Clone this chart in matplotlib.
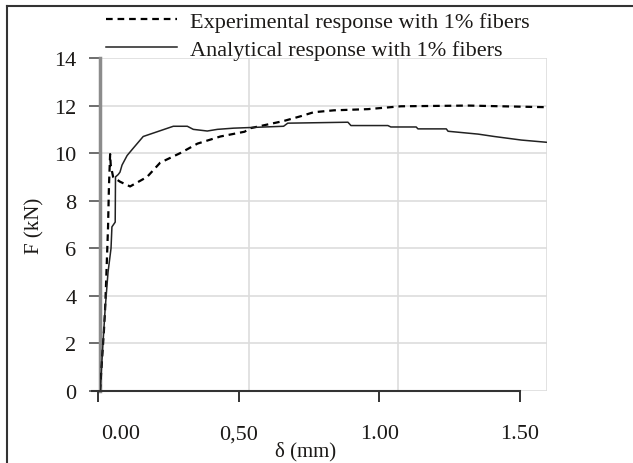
import matplotlib
matplotlib.use("Agg")
import matplotlib.pyplot as plt
from matplotlib.lines import Line2D
from matplotlib.transforms import ScaledTranslation

plt.rcParams['font.family'] = ['Liberation Serif', 'DejaVu Serif']

# experimental response (dashed), delta in mm, F in kN
exp_d = [0.0, 0.013, 0.017, 0.020, 0.027, 0.030, 0.034, 0.036, 0.044, 0.067,
         0.101, 0.158, 0.202, 0.269, 0.327, 0.404, 0.485, 0.505, 0.616, 0.673,
         0.717, 0.785, 0.899, 1.010, 1.236, 1.347, 1.505]
exp_F = [0.0, 2.5, 3.4, 4.4, 6.9, 8.6, 9.96, 9.5, 9.0, 8.8,
         8.6, 9.0, 9.6, 10.0, 10.4, 10.7, 10.9, 11.05, 11.35, 11.55,
         11.72, 11.8, 11.85, 11.97, 12.0, 11.97, 11.93]

# analytical response (solid)
ana_d = [0.0, 0.003, 0.010, 0.017, 0.027, 0.037, 0.040, 0.051, 0.052, 0.061,
         0.067, 0.074, 0.091, 0.111, 0.145, 0.192, 0.246, 0.293, 0.313, 0.360,
         0.394, 0.448, 0.616, 0.630, 0.832, 0.842, 0.966, 0.976, 1.061, 1.067,
         1.162, 1.168, 1.269, 1.323, 1.414, 1.505]
ana_F = [0.0, 0.5, 2.0, 3.4, 5.0, 6.0, 6.9, 7.1, 9.0, 9.1,
         9.2, 9.5, 9.9, 10.2, 10.7, 10.9, 11.13, 11.13, 11.0, 10.93,
         11.0, 11.05, 11.13, 11.26, 11.3, 11.16, 11.16, 11.1, 11.1, 11.02,
         11.02, 10.92, 10.8, 10.7, 10.55, 10.45]

y_ticks = [0, 2, 4, 6, 8, 10, 12, 14]
x_ticks = [0.0, 0.5, 1.0, 1.5]
x_labels = ['0.00', '0,50', '1.00', '1.50']

txt = '#1c1a18'
W, H = 633, 464
fig = plt.figure(figsize=(W / 100, H / 100), dpi=100)

# main plotting area
ax = fig.add_axes([100 / W, 1 - 392 / H, 447 / W, 333 / H])
ax.plot(exp_d, exp_F, color='black', lw=1.6, ls=(0, (3, 2.2)),
        label='Experimental response with 1% fibers')
ax.plot(ana_d, ana_F, color='#222222', lw=1.1,
        label='Analytical response with 1% fibers')
ax.set_xlim(0, 1.5)
ax.set_ylim(0, 14)
ax.set_yticks(y_ticks)
ax.set_xticks(x_ticks)
ax.set_xticklabels([])
ax.grid(True, color='#dddddd', lw=1.2)
ax.set_axisbelow(True)
for s in ['top', 'right', 'bottom']:
    ax.spines[s].set_visible(False)
ax.spines['left'].set_color('#8c8c8c')
ax.spines['left'].set_linewidth(2.5)
ax.spines['left'].set_zorder(1.5)
ax.tick_params(axis='y', direction='out', length=8, width=1.2, color='#555555',
               labelsize=16, labelcolor=txt, pad=9)
ax.tick_params(axis='x', length=0)
ax.set_ylabel('F (kN)', fontsize=15, color=txt, labelpad=7)

# bottom axis line (offset like in the original figure)
ax2 = fig.add_axes([92 / W, 1 - 392 / H, 428 / W, 333 / H], facecolor='none')
ax2.set_xlim(-6 / 281.3, 1.5)
ax2.set_ylim(0, 1)
ax2.set_xticks(x_ticks)
ax2.set_xticklabels(x_labels)
ax2.set_yticks([])
for s in ['top', 'right', 'left']:
    ax2.spines[s].set_visible(False)
ax2.spines['bottom'].set_color('#333333')
ax2.spines['bottom'].set_linewidth(1.5)
ax2.tick_params(axis='x', direction='out', length=8, width=1.4, color='#333333',
                labelsize=16, labelcolor=txt, pad=16)
ax2.set_xlabel('δ (mm)', fontsize=15, color=txt, labelpad=-2)
first = ax2.get_xticklabels()[0]
first.set_transform(first.get_transform() + ScaledTranslation(0.23, 0, fig.dpi_scale_trans))

leg = ax.legend(loc='lower left', bbox_to_anchor=(-0.012, 0.96), frameon=False,
                fontsize=16, handlelength=3.2, handletextpad=0.6,
                labelspacing=0.35, borderpad=0)
for t in leg.get_texts():
    t.set_color(txt)

# frame of the original figure (left and top edges)
fig.add_artist(Line2D([7 / W, 7 / W], [0, 1 - 7 / H], color='#333333', lw=1.5))
fig.add_artist(Line2D([7 / W, 1], [1 - 7 / H, 1 - 7 / H], color='#333333', lw=1.5))

fig.savefig('out.png', dpi=100)
